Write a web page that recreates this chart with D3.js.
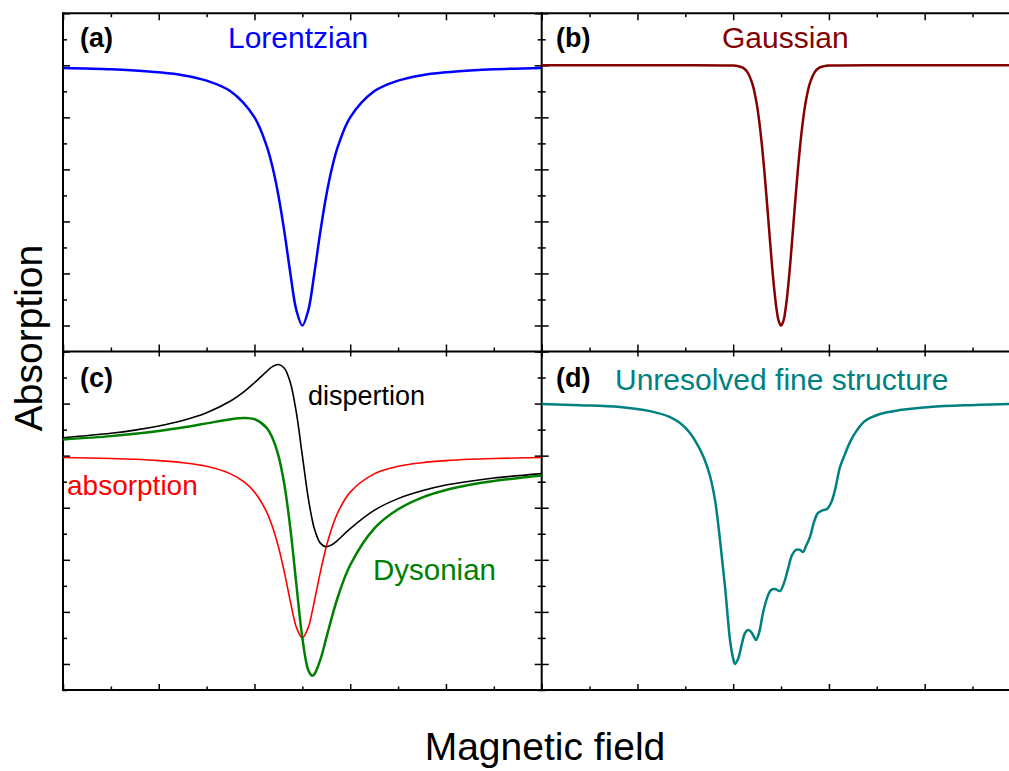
<!DOCTYPE html>
<html><head><meta charset="utf-8">
<script src="https://cdn.jsdelivr.net/npm/d3@7"></script>
<style>
body{margin:0;background:#fff}
svg{display:block}
text{font-family:"Liberation Sans",Arial,Helvetica,sans-serif}
</style>
</head><body>
<svg id="chart" width="1009" height="771"></svg>
<script>
// ---------- data (field in arbitrary units 0..10 per panel, absorption normalised) ----------
// (a) Lorentzian
const fieldA  = [0,1,1.5,2,2.5,3,3.5,4,4.25,4.375,4.5,4.625,4.75,4.875,5,5.125,5.25,5.375,5.5,5.625,5.75,6,6.5,7,7.5,8,8.5,9,10];
const lorentzA = [0.990,0.985,0.980,0.973,0.962,0.941,0.900,0.800,0.692,0.610,0.500,0.360,0.200,0.059,0.000,0.059,0.200,0.360,0.500,0.610,0.692,0.800,0.900,0.941,0.962,0.973,0.980,0.985,0.990];
// (b) Gaussian
const fieldB  = [0,2,4,4.1,4.2,4.3,4.4,4.45,4.5,4.55,4.6,4.65,4.7,4.75,4.8,4.85,4.9,4.95,5,5.05,5.1,5.15,5.2,5.25,5.3,5.35,5.4,5.45,5.5,5.55,5.6,5.7,5.8,5.9,6,8,10];
const gaussB  = [1.000,1.000,0.999,0.997,0.991,0.973,0.930,0.893,0.843,0.776,0.694,0.596,0.486,0.370,0.256,0.153,0.071,0.018,0.000,0.018,0.071,0.153,0.256,0.370,0.486,0.596,0.694,0.776,0.843,0.893,0.930,0.973,0.991,0.997,0.999,1.000,1.000];
// (c) absorption, dispersion and Dysonian
const fieldC  = [0,1,1.5,2,2.5,3,3.5,3.79,4,4.25,4.375,4.5,4.625,4.75,4.875,5,5.125,5.207,5.25,5.375,5.5,5.625,5.75,6,6.5,7,7.5,8,8.5,9,10];
const absorpC = [0.793,0.789,0.786,0.781,0.773,0.759,0.730,0.698,0.660,0.585,0.527,0.450,0.352,0.240,0.141,0.100,0.141,0.202,0.240,0.352,0.450,0.527,0.585,0.660,0.730,0.759,0.773,0.781,0.786,0.789,0.793];
const dispC   = [0.869,0.886,0.898,0.914,0.935,0.965,1.010,1.047,1.080,1.123,1.142,1.150,1.136,1.080,0.965,0.800,0.635,0.553,0.520,0.464,0.450,0.459,0.477,0.520,0.590,0.635,0.665,0.687,0.702,0.714,0.731];
const dysonC  = [0.862,0.875,0.884,0.895,0.908,0.924,0.940,0.945,0.940,0.908,0.868,0.800,0.688,0.520,0.306,0.100,-0.024,-0.045,-0.040,0.016,0.100,0.185,0.262,0.380,0.520,0.594,0.639,0.668,0.688,0.703,0.724];
// (d) unresolved fine structure
const fieldD  = [0,0.80,1.636,2.263,2.681,2.89,3.098,3.244,3.39,3.516,3.62,3.725,3.83,3.934,3.997,4.038,4.101,4.185,4.247,4.310,4.373,4.435,4.477,4.540,4.623,4.707,4.790,4.874,4.978,5.062,5.145,5.229,5.312,5.396,5.459,5.521,5.605,5.688,5.772,5.876,5.960,6.043,6.127,6.231,6.336,6.440,6.586,6.753,7.067,7.485,8.112,8.947,9.762,10];
const fineD   = [0.998,0.994,0.987,0.971,0.948,0.925,0.887,0.845,0.791,0.722,0.630,0.476,0.296,0.092,0.023,0.000,0.019,0.080,0.119,0.130,0.123,0.104,0.092,0.119,0.196,0.253,0.284,0.288,0.280,0.311,0.365,0.418,0.438,0.438,0.430,0.453,0.488,0.545,0.580,0.591,0.595,0.618,0.668,0.756,0.806,0.852,0.898,0.933,0.960,0.975,0.987,0.994,0.998,0.998];

// ticks
const xMajorTicks = [0,2,4,6,8,10];
const xMinorTicks = [1,3,5,7,9];
const yMajorTicks = [0,0.2,0.4,0.6,0.8,1.0,1.2];
const yMinorTicks = [-0.1,0.1,0.3,0.5,0.7,0.9,1.1];

// ---------- layout ----------
const svg = d3.select('#chart');
const L = 63, M = 541.7, R = 1020.4;
const T = 13.3, MY = 351.5, B = 690;

const xLeft  = d3.scaleLinear().domain([0,10]).range([L, M]);
const xRight = d3.scaleLinear().domain([0,10]).range([M, R]);
const yTop   = d3.scaleLinear().domain([-0.1,1.2]).range([MY, T]);
const yBot   = d3.scaleLinear().domain([-0.1,1.2]).range([B, MY]);

const MAJ = 7, MIN = 4;

function drawAxis(axisGen, scale, ticks, size, transform) {
  const g = svg.append('g').attr('transform', transform)
    .call(axisGen(scale).tickValues(ticks).tickSize(size).tickSizeOuter(0).tickFormat(''));
  g.select('.domain').remove();
  g.selectAll('line').attr('stroke', '#000').attr('stroke-width', 1.5);
  return g;
}

// x axes
[xLeft, xRight].forEach(xs => {
  drawAxis(d3.axisBottom, xs, xMajorTicks, MAJ, `translate(0,${T})`);
  drawAxis(d3.axisBottom, xs, xMinorTicks, MIN, `translate(0,${T})`);
  drawAxis(d3.axisTop, xs, xMajorTicks, MAJ, `translate(0,${MY})`);
  drawAxis(d3.axisTop, xs, xMinorTicks, MIN, `translate(0,${MY})`);
  drawAxis(d3.axisBottom, xs, xMajorTicks, MAJ - 2, `translate(0,${MY})`);
  drawAxis(d3.axisTop, xs, xMajorTicks, MAJ - 1, `translate(0,${B})`);
  drawAxis(d3.axisTop, xs, xMinorTicks, MIN - 0.5, `translate(0,${B})`);
});
// y axes
[yTop, yBot].forEach(ys => {
  drawAxis(d3.axisRight, ys, yMajorTicks, MAJ, `translate(${L},0)`);
  drawAxis(d3.axisRight, ys, yMinorTicks, MIN, `translate(${L},0)`);
  drawAxis(d3.axisLeft, ys, yMajorTicks, MAJ, `translate(${M},0)`);
  drawAxis(d3.axisLeft, ys, yMinorTicks, MIN, `translate(${M},0)`);
  drawAxis(d3.axisRight, ys, yMajorTicks, MAJ, `translate(${M},0)`);
  drawAxis(d3.axisRight, ys, yMinorTicks, MIN, `translate(${M},0)`);
});

// frame lines
const frame = svg.append('g').attr('stroke', '#000').attr('stroke-width', 2).attr('fill', 'none');
frame.append('line').attr('x1', L).attr('x2', R).attr('y1', T).attr('y2', T);
frame.append('line').attr('x1', L).attr('x2', R).attr('y1', MY).attr('y2', MY);
frame.append('line').attr('x1', L).attr('x2', R).attr('y1', B).attr('y2', B);
frame.append('line').attr('x1', L).attr('x2', L).attr('y1', T - 1).attr('y2', B + 1);
frame.append('line').attr('x1', M).attr('x2', M).attr('y1', T - 1).attr('y2', B + 1);
frame.append('line').attr('x1', R).attr('x2', R).attr('y1', T - 1).attr('y2', B + 1);

// ---------- curves ----------
function curve(xs, ys, xv, yv, color, width) {
  const pts = xv.map((x, i) => [x, yv[i]]);
  const line = d3.line().x(d => xs(d[0])).y(d => ys(d[1])).curve(d3.curveCatmullRom.alpha(0.5));
  svg.append('path').datum(pts).attr('d', line)
    .attr('fill', 'none').attr('stroke', color).attr('stroke-width', width)
    .attr('stroke-linejoin', 'round');
}
curve(xLeft, yTop, fieldA, lorentzA, '#0000ff', 2.5);
curve(xRight, yTop, fieldB, gaussB, '#850000', 2.5);
curve(xLeft, yBot, fieldC, absorpC, '#ff0000', 1.6);
curve(xLeft, yBot, fieldC, dispC, '#000000', 1.6);
curve(xLeft, yBot, fieldC, dysonC, '#008000', 2.5);
curve(xRight, yBot, fieldD, fineD, '#008080', 2.5);

// ---------- labels ----------
function label(x, y, txt, size, color, weight) {
  svg.append('text').attr('x', x).attr('y', y).text(txt)
    .attr('font-size', size).attr('fill', color).attr('font-weight', weight || 'normal');
}
label(80, 47, '(a)', 27, '#000', 'bold');
label(556, 47, '(b)', 27, '#000', 'bold');
label(80, 387, '(c)', 27, '#000', 'bold');
label(556, 387, '(d)', 27, '#000', 'bold');
label(228, 48, 'Lorentzian', 30, '#0000ff');
label(722, 48, 'Gaussian', 30, '#850000');
label(308, 405, 'dispertion', 27, '#000');
label(67, 495, 'absorption', 28, '#ff0000');
label(373, 580, 'Dysonian', 29.5, '#008000');
label(615, 390, 'Unresolved fine structure', 30, '#008080');

svg.append('text').attr('x', 545).attr('y', 760).attr('text-anchor', 'middle')
  .attr('font-size', 39).attr('fill', '#000').text('Magnetic field');
svg.append('text').attr('transform', 'translate(42,338) rotate(-90)').attr('text-anchor', 'middle')
  .attr('font-size', 39).attr('fill', '#000').text('Absorption');
</script>
</body></html>
